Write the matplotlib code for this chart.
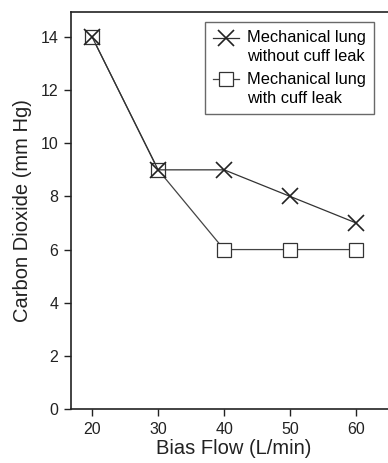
import matplotlib
matplotlib.use("Agg")
import numpy as np
import matplotlib.pyplot as plt
from matplotlib.legend_handler import HandlerLine2D

bias_flow = [20, 30, 40, 50, 60]
without_leak = [14, 9, 9, 8, 7]
with_leak = [14, 9, 6, 6, 6]
xticks = [20, 30, 40, 50, 60]
yticks = [0, 2, 4, 6, 8, 10, 12, 14]

plt.rcParams['font.family'] = ['Liberation Sans', 'DejaVu Sans']


class TopLineHandler(HandlerLine2D):
    """Place the legend marker beside the first text line."""
    def create_artists(self, legend, orig_handle, xdescent, ydescent,
                       width, height, fontsize, trans):
        arts = super().create_artists(legend, orig_handle, xdescent, ydescent,
                                      width, height, fontsize, trans)
        for a in arts:
            a.set_ydata(np.asarray(a.get_ydata(), dtype=float) + 0.6 * fontsize)
        return arts


fig = plt.figure(figsize=(3.88, 4.63), dpi=100)
ax = fig.add_axes([71/388, 1-409/463, 1.02 - 71/388, (409-12)/463])

ln_with, = ax.plot(bias_flow, with_leak, color='#444444', lw=0.9, marker='s', ms=10.5,
                   mfc='white', mec='#333333', mew=0.9,
                   label='Mechanical lung\nwith cuff leak', zorder=2)
ln_without, = ax.plot(bias_flow, without_leak, color='#333333', lw=0.9, marker='x', ms=11,
                      mec='#222222', mew=1.2,
                      label='Mechanical lung\nwithout cuff leak', zorder=3)

ax.set_xlim(16.8, 66)
ax.set_ylim(0, 14.94)
ax.set_xticks(xticks)
ax.set_yticks(yticks)
ax.tick_params(direction='out', length=5, width=1, labelsize=11.5, colors='#222222', pad=4)
for s in ax.spines.values():
    s.set_linewidth(1.2)
    s.set_color('#222222')

ax.set_xlabel('Bias Flow (L/min)', fontsize=14.5, color='#222222', labelpad=2)
ax.set_ylabel('Carbon Dioxide (mm Hg)', fontsize=14.5, color='#222222', labelpad=6)

h, l = ax.get_legend_handles_labels()
leg = ax.legend(h[::-1], l[::-1], loc='upper left', bbox_to_anchor=(0.412, 0.975),
                fontsize=11.8, frameon=True, fancybox=False, edgecolor='#444444',
                handlelength=1.6, handletextpad=0.45, borderpad=0.5, labelspacing=0.45,
                borderaxespad=0,
                handler_map={ln_with: TopLineHandler(), ln_without: TopLineHandler()})
for t in leg.get_texts():
    t.set_linespacing(1.35)
leg.get_frame().set_linewidth(1.0)

fig.savefig('out.png', dpi=100)
